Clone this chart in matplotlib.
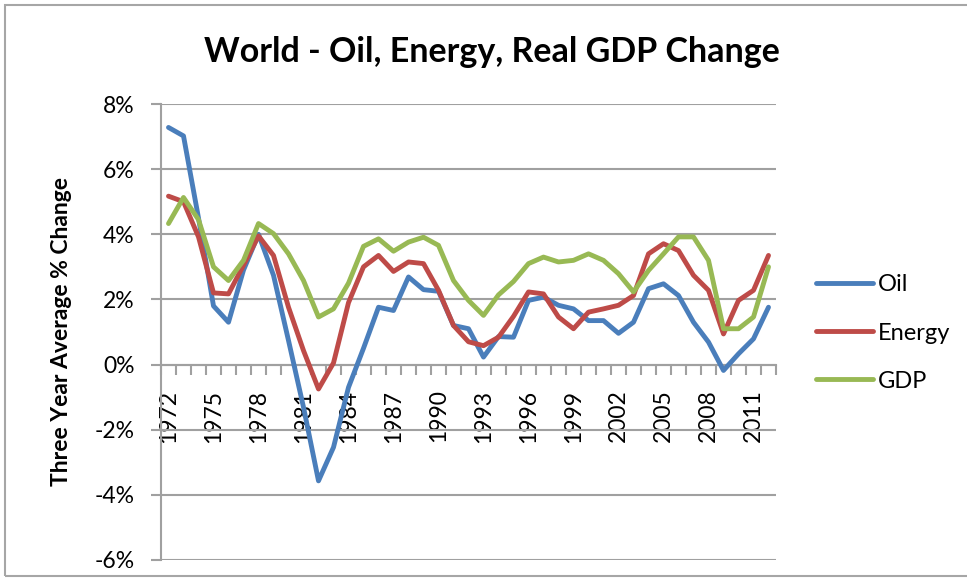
import numpy as np
import matplotlib
matplotlib.use("Agg")
import matplotlib.pyplot as plt
from matplotlib.patches import Rectangle
from matplotlib.ticker import FixedLocator, FuncFormatter

plt.rcParams['font.family'] = ['Lato', 'DejaVu Sans']

# データ (1972-2012, 3年平均変化率 %)
years = list(range(1972, 2013))
oil = [7.28, 7.02, 4.5, 1.8, 1.3, 2.9, 4.0, 2.74, 0.74, -1.31,
       -3.57, -2.54, -0.70, 0.5, 1.76, 1.66, 2.69, 2.3, 2.25, 1.2,
       1.1, 0.23, 0.86, 0.84, 1.97, 2.07, 1.82, 1.71, 1.35, 1.35,
       0.96, 1.30, 2.33, 2.48, 2.12, 1.30, 0.69, -0.18, 0.33, 0.79,
       1.76]
energy = [5.17, 5.0, 3.92, 2.2, 2.17, 3.05, 3.95, 3.35, 1.76, 0.43,
          -0.75, 0.05, 1.9, 3.0, 3.35, 2.86, 3.15, 3.1, 2.28, 1.2,
          0.7, 0.58, 0.84, 1.48, 2.23, 2.17, 1.46, 1.1, 1.61, 1.71,
          1.82, 2.12, 3.4, 3.71, 3.5, 2.74, 2.28, 0.94, 1.97, 2.28,
          3.35]
gdp = [4.33, 5.13, 4.45, 3.0, 2.58, 3.2, 4.33, 4.02, 3.4, 2.58,
       1.46, 1.71, 2.5, 3.63, 3.86, 3.48, 3.76, 3.91, 3.66, 2.58,
       1.97, 1.51, 2.14, 2.55, 3.1, 3.3, 3.15, 3.2, 3.4, 3.2,
       2.79, 2.23, 2.89, 3.4, 3.92, 3.92, 3.2, 1.1, 1.1, 1.46,
       3.0]
series_names = ["Oil", "Energy", "GDP"]
y_ticks = [-6, -4, -2, 0, 2, 4, 6, 8]

W, H = 967, 585
fig = plt.figure(figsize=(W / 100, H / 100), dpi=100)

# 外枠
fig.patches.append(Rectangle((5 / W, 1 - 576 / H), 1.2, 571 / H, transform=fig.transFigure,
                             fill=False, edgecolor='#a6a6a6', linewidth=1.5))

ax = fig.add_axes([161 / W, 1 - 560 / H, 615 / W, 456 / H])
x = np.arange(len(years))
colors = ['#4a7ebb', '#be4b48', '#98b954']
for vals, name, c in zip([oil, energy, gdp], series_names, colors):
    ax.plot(x, vals, color=c, linewidth=3.5, label=name, solid_joinstyle='round',
            solid_capstyle='round', zorder=3)

ax.set_xlim(-0.5, len(years) - 0.5)
ax.set_ylim(-6, 8)

grid_c = '#a0a0a0'
ax.set_yticks(y_ticks)
ax.yaxis.set_major_formatter(FuncFormatter(lambda v, p: f"{int(v)}%"))
ax.grid(axis='y', color=grid_c, linewidth=1.5)
ax.tick_params(axis='y', length=7, width=1.5, color=grid_c, labelsize=16.5, pad=12)

# x軸は0%の位置
for s in ['top', 'right']:
    ax.spines[s].set_visible(False)
ax.spines['left'].set_color(grid_c)
ax.spines['left'].set_linewidth(1.5)
ax.spines['bottom'].set_position(('data', 0))
ax.spines['bottom'].set_color(grid_c)
ax.spines['bottom'].set_linewidth(1.5)

ax.xaxis.set_major_locator(FixedLocator(np.arange(-0.5, len(years), 1.0)))
ax.xaxis.set_major_formatter(FuncFormatter(lambda v, p: ""))
lab_pos = x[::3]
ax.xaxis.set_minor_locator(FixedLocator(lab_pos))
ax.xaxis.set_minor_formatter(FuncFormatter(lambda v, p: str(years[int(round(v))])))
ax.tick_params(axis='x', which='major', length=7, width=1.5, color=grid_c, direction='out')
ax.tick_params(axis='x', which='minor', length=0, labelsize=16.5, labelrotation=90, pad=18)
for t in ax.xaxis.get_minorticklabels():
    t.set_verticalalignment('top')

fig.text(492 / W, 1 - 52 / H, "World - Oil, Energy, Real GDP Change", ha='center', va='center',
         fontsize=24.5, fontweight='bold')
fig.text(62 / W, 1 - 332 / H, "Three Year Average % Change", ha='center', va='center',
         rotation=90, fontsize=16.5, fontweight='bold')

fig.legend(loc='center left', bbox_to_anchor=(816 / W, 1 - 333 / H), frameon=False,
           fontsize=17, handlelength=2.4, handletextpad=0.2, labelspacing=1.15, borderpad=0,
           borderaxespad=0)

fig.savefig("out.png", dpi=100)
